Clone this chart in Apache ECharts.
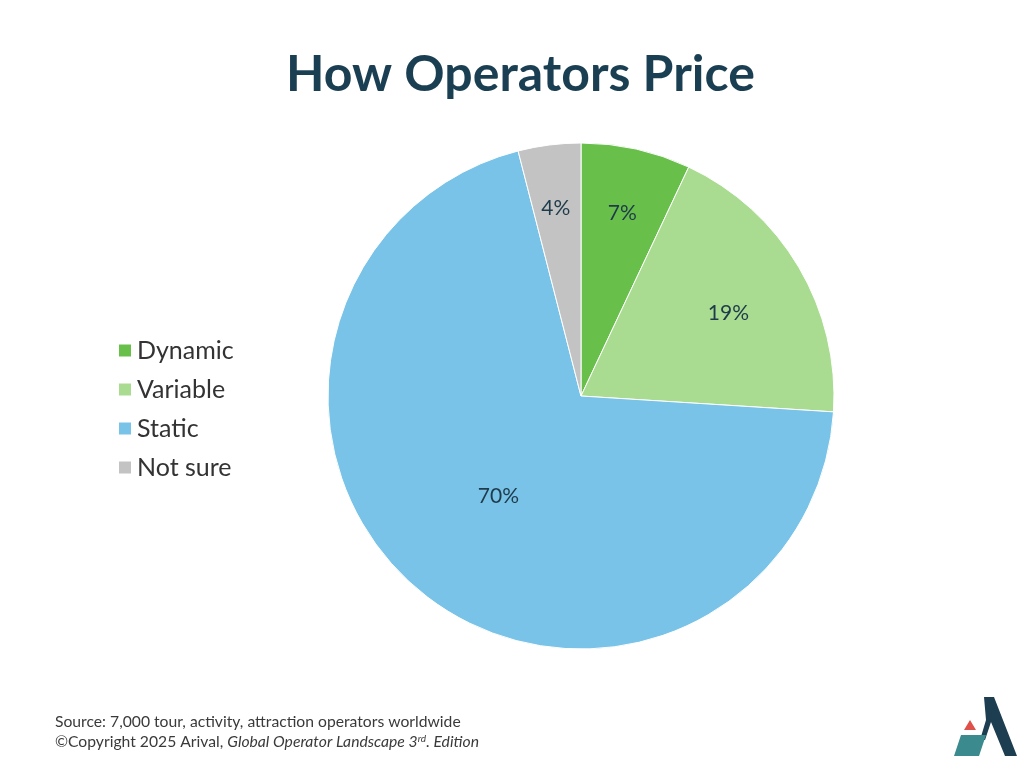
<!DOCTYPE html>
<html><head><meta charset="utf-8">
<script src="https://cdn.jsdelivr.net/npm/echarts@6/dist/echarts.min.js"></script>
<style>html,body{margin:0;background:#fff}#c{width:1024px;height:768px}</style>
</head><body><div id="c"></div>
<script>
const categories = ['Dynamic','Variable','Static','Not sure'];
const values = [7,19,70,4];
const colors = ['#68c04b','#a9dc91','#79c3e8','#c3c3c3'];
const labelOffsets = [[13,-56],[36,-17],[0,0],[-9,-59]];
const chart = echarts.init(document.getElementById('c'));
chart.setOption({
  backgroundColor:'#fff',
  title:{text:'How Operators Price',left:281,top:45,textStyle:{fontFamily:'Lato',fontWeight:'bold',fontSize:50,color:'#1b3f52'}},
  legend:{orient:'vertical',left:112,top:333,itemWidth:14,itemHeight:14,itemGap:14,icon:'rect',
    textStyle:{fontFamily:'Lato',fontSize:25,lineHeight:25,color:'#333'},data:categories},
  graphic:[
    {type:'text',left:55,top:714,style:{text:'Source: 7,000 tour, activity, attraction operators worldwide',font:'15.7px Lato',fill:'#3a3a3a'}},
    {type:'text',left:55,top:734,style:{rich:{n:{font:'15.7px Lato',fill:'#3a3a3a'},i:{font:'italic 15.7px Lato',fill:'#3a3a3a'},s:{font:'italic 10px Lato',fill:'#3a3a3a',verticalAlign:'top'}},text:'{n|©Copyright 2025 Arival, }{i|Global Operator Landscape 3}{s|rd}{i|. Edition}'}},
    {type:'polygon',shape:{points:[[984,697],[994,697],[1017,756],[1005,756],[991,722],[985,740],[980,740],[986,720]]},style:{fill:'#1d3d50'}},
    {type:'polygon',shape:{points:[[970,720],[976,730],[964,730]]},style:{fill:'#e0504a'}},
    {type:'polygon',shape:{points:[[961,735],[986,735],[979,756],[954,756]]},style:{fill:'#3b8a8e'}}
  ],
  series:[{type:'pie',center:[581,396],radius:[0,253],startAngle:90,clockwise:true,
    label:{position:'inside',formatter:'{c}%',fontFamily:'Lato',fontSize:21,color:'#1f3a4a'},
    labelLine:{show:false},itemStyle:{borderColor:'#fff',borderWidth:1},
    emphasis:{disabled:true},
    data:categories.map((n,i)=>({name:n,value:values[i],itemStyle:{color:colors[i]},label:{offset:labelOffsets[i]}}))}]
});
</script></body></html>
